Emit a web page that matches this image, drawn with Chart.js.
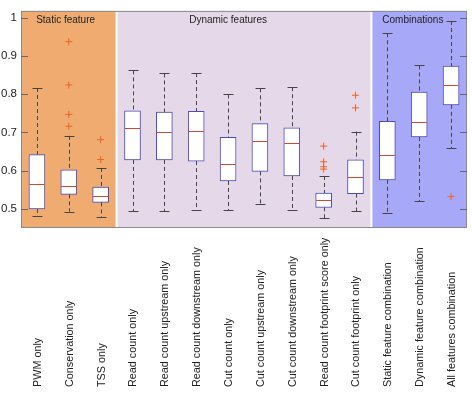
<!DOCTYPE html>
<html>
<head>
<meta charset="utf-8">
<script src="https://cdn.jsdelivr.net/npm/chart.js@4/dist/chart.umd.min.js"></script>
<style>
  body { margin:0; background:#fff; }
  canvas { display:block; }
</style>
</head>
<body>
<canvas id="boxChart" width="472" height="397"></canvas>
<script>
const labels = ['PWM only','Conservation only','TSS only',
  'Read count only','Read count upstream only','Read count downstream only',
  'Cut count only','Cut count upstream only','Cut count downstream only',
  'Read count footprint score only','Cut count footprint only',
  'Static feature combination','Dynamic feature combination','All features combination'];

const whiskerLow  = [0.481,0.493,0.479,0.494,0.494,0.496,0.496,0.513,0.498,0.476,0.494,0.488,0.520,0.658];
const q1          = [0.500,0.538,0.517,0.628,0.628,0.625,0.573,0.598,0.586,0.504,0.540,0.576,0.688,0.772];
const medians     = [0.564,0.559,0.533,0.711,0.702,0.703,0.618,0.678,0.673,0.522,0.584,0.642,0.727,0.823];
const q3          = [0.642,0.602,0.557,0.756,0.753,0.755,0.687,0.723,0.712,0.541,0.628,0.729,0.805,0.873];
const whiskerHigh = [0.816,0.691,0.607,0.862,0.854,0.855,0.799,0.815,0.818,0.586,0.702,0.959,0.875,0.991];

// [category index, value]
const outliers = [[1,0.937],[1,0.824],[1,0.747],[1,0.716],[2,0.681],[2,0.629],
  [9,0.664],[9,0.623],[9,0.610],[9,0.604],[10,0.797],[10,0.764],[13,0.532]];

const yTicks = [0.5,0.6,0.7,0.8,0.9,1];

// panels: first index, last index, colour, title, title position (category units)
const panels = [
  {from:0, to:2,  color:'rgb(240,172,112)', title:'Static feature',   at:0.9},
  {from:3, to:10, color:'rgb(229,216,233)', title:'Dynamic features', at:6.0},
  {from:11,to:13, color:'rgb(168,168,248)', title:'Combinations',     at:11.8}
];

const FONT = '"Liberation Sans", Arial, sans-serif';

const boxExtras = {
  id:'boxExtras',
  beforeDraw(chart){
    const {ctx, chartArea:a, scales:{x}} = chart;
    const half = (x.getPixelForValue(1) - x.getPixelForValue(0)) / 2;
    ctx.save();
    ctx.fillStyle = '#fff';
    ctx.fillRect(0,0,chart.width,chart.height);
    panels.forEach(p=>{
      const x0 = p.from===0 ? a.left : x.getPixelForValue(p.from)-half;
      const x1 = p.to===labels.length-1 ? a.right : x.getPixelForValue(p.to)+half;
      ctx.fillStyle = p.color;
      ctx.fillRect(x0, a.top, x1-x0, a.bottom-a.top);
    });
    ctx.strokeStyle = '#fff';
    ctx.lineWidth = 2;
    [2,10].forEach(i=>{
      const bx = x.getPixelForValue(i)+half;
      ctx.beginPath(); ctx.moveTo(bx,a.top); ctx.lineTo(bx,a.bottom); ctx.stroke();
    });
    ctx.restore();
  },
  beforeDatasetsDraw(chart){
    const {ctx, scales:{x,y}} = chart;
    ctx.save();
    ctx.strokeStyle = '#444';
    ctx.lineWidth = 1;
    labels.forEach((l,i)=>{
      const cx = Math.round(x.getPixelForValue(i))+0.5;
      ctx.setLineDash([4,3]);
      ctx.beginPath();
      ctx.moveTo(cx, y.getPixelForValue(whiskerHigh[i]));
      ctx.lineTo(cx, y.getPixelForValue(q3[i]));
      ctx.moveTo(cx, y.getPixelForValue(q1[i]));
      ctx.lineTo(cx, y.getPixelForValue(whiskerLow[i]));
      ctx.stroke();
      ctx.setLineDash([]);
      ctx.beginPath();
      [whiskerHigh[i], whiskerLow[i]].forEach(v=>{
        const py = Math.round(y.getPixelForValue(v))+0.5;
        ctx.moveTo(cx-5, py); ctx.lineTo(cx+5, py);
      });
      ctx.stroke();
    });
    ctx.restore();
  },
  afterDatasetsDraw(chart){
    const {ctx, chartArea:a, scales:{x,y}} = chart;
    ctx.save();
    // medians
    ctx.strokeStyle = 'rgb(205,75,45)';
    ctx.lineWidth = 1;
    labels.forEach((l,i)=>{
      const cx = x.getPixelForValue(i);
      const py = Math.round(y.getPixelForValue(medians[i]))+0.5;
      ctx.beginPath(); ctx.moveTo(cx-7.5,py); ctx.lineTo(cx+7.5,py); ctx.stroke();
    });
    // frame and inward ticks
    ctx.strokeStyle = '#8a8a8a';
    ctx.strokeRect(a.left+0.5, a.top+0.5, a.right-a.left-1, a.bottom-a.top-1);
    ctx.strokeStyle = '#666';
    yTicks.forEach(v=>{
      const py = Math.round(y.getPixelForValue(v))+0.5;
      ctx.beginPath();
      ctx.moveTo(a.left, py); ctx.lineTo(a.left+7, py);
      ctx.moveTo(a.right-7, py); ctx.lineTo(a.right, py);
      ctx.stroke();
    });
    // panel titles
    ctx.fillStyle = '#222';
    ctx.font = '10px ' + FONT;
    ctx.textAlign = 'center';
    ctx.textBaseline = 'middle';
    panels.forEach(p=>{
      ctx.fillText(p.title, x.getPixelForValue(p.at), a.top+9);
    });
    // category labels, rotated, starting at the bottom
    ctx.font = '10.8px ' + FONT;
    ctx.textAlign = 'left';
    labels.forEach((l,i)=>{
      ctx.save();
      ctx.translate(x.getPixelForValue(i)+1, 387);
      ctx.rotate(-Math.PI/2);
      ctx.fillText(l, 0, 0);
      ctx.restore();
    });
    ctx.restore();
  }
};

new Chart(document.getElementById('boxChart'), {
  type:'bar',
  data:{
    labels: labels,
    datasets:[
      {
        label:'box',
        data: q1.map((v,i)=>[v, q3[i]]),
        backgroundColor:'#fff',
        borderColor:'rgb(75,75,185)',
        borderWidth:1,
        borderSkipped:false,
        barThickness:16
      },
      {
        type:'line',
        label:'outliers',
        data: outliers.map(o=>({x: labels[o[0]], y: o[1]})),
        showLine:false,
        pointStyle:'cross',
        pointRadius:3.5,
        borderColor:'rgb(232,100,40)',
        backgroundColor:'rgb(232,100,40)',
        borderWidth:1
      }
    ]
  },
  options:{
    responsive:false,
    animation:false,
    layout:{ padding:{ top:1, right:2, left:0, bottom:0 } },
    plugins:{ legend:{ display:false }, tooltip:{ enabled:false } },
    scales:{
      x:{
        grid:{ display:false },
        border:{ display:false },
        ticks:{ display:false },
        afterFit: s => { s.height = 169; }
      },
      y:{
        min:0.45, max:1.0175,
        afterBuildTicks: s => { s.ticks = yTicks.map(v=>({value:v})); },
        grid:{ drawOnChartArea:false, drawTicks:false },
        border:{ display:false },
        ticks:{
          padding:4,
          color:'#222',
          font:{ family:FONT, size:11.5 },
          callback: v => v===1 ? '1' : v.toFixed(1)
        },
        afterFit: s => { s.width = 21; }
      }
    }
  },
  plugins:[boxExtras]
});
</script>
</body>
</html>
